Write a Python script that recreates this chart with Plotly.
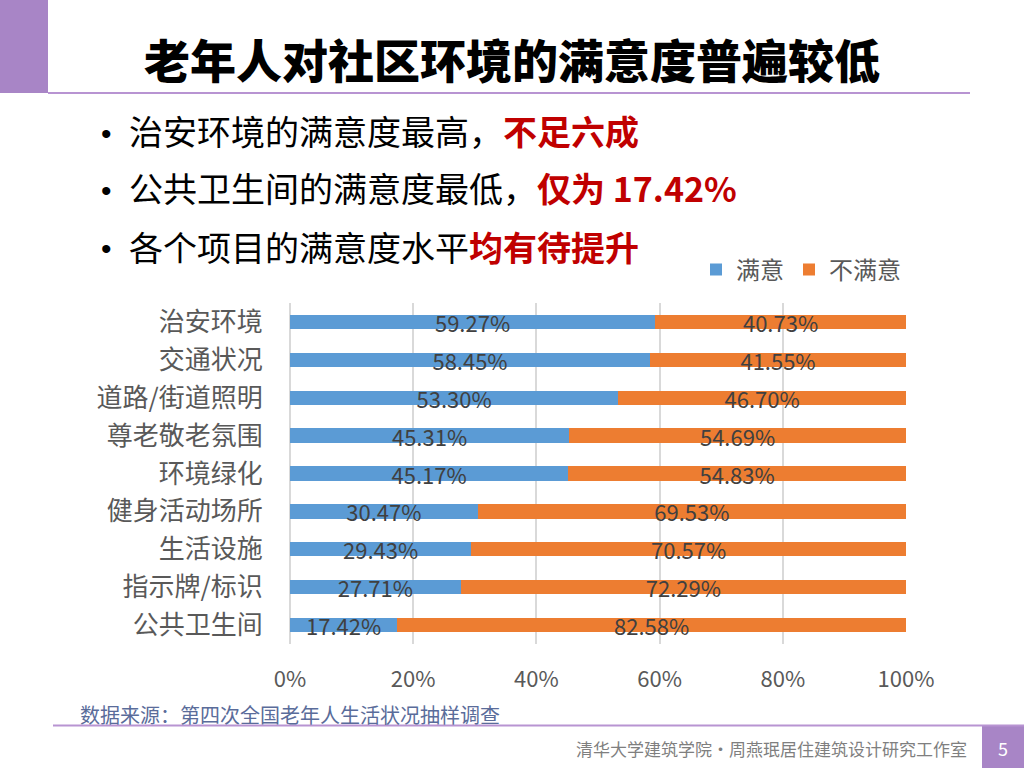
import plotly.graph_objects as go

categories = ["治安环境", "交通状况", "道路/街道照明", "尊老敬老氛围", "环境绿化",
              "健身活动场所", "生活设施", "指示牌/标识", "公共卫生间"]
satisfied = [59.27, 58.45, 53.30, 45.31, 45.17, 30.47, 29.43, 27.71, 17.42]
unsatisfied = [40.73, 41.55, 46.70, 54.69, 54.83, 69.53, 70.57, 72.29, 82.58]
series_names = ["满意", "不满意"]
x_ticks = [0, 20, 40, 60, 80, 100]

W, H = 1024, 768
FONT = "Noto Sans CJK SC"
BLUE = "#5B9BD5"
ORANGE = "#ED7D31"
PURPLE = "#A885C6"
LINEPURPLE = "#B894D2"


def px(x):
    return x / W


def py(y):
    return 1 - y / H


fig = go.Figure()
for name, vals, col in [(series_names[0], satisfied, BLUE), (series_names[1], unsatisfied, ORANGE)]:
    fig.add_trace(go.Bar(
        y=categories, x=vals, name=name, orientation="h",
        marker=dict(color=col, line=dict(width=0)),
        text=[f"{v:.2f}%" for v in vals],
        textposition="inside", insidetextanchor="middle", textangle=0,
        textfont=dict(family=FONT, size=22, color="#404040"),
        hoverinfo="skip",
    ))

fig.update_layout(
    template="none",
    width=W, height=H, autosize=False,
    margin=dict(l=0, r=0, t=0, b=0, pad=0, autoexpand=False),
    paper_bgcolor="white", plot_bgcolor="white",
    barmode="stack", bargap=0.62,
    uniformtext=dict(minsize=22, mode="show"),
    font=dict(family=FONT),
    showlegend=True,
    legend=dict(orientation="h", x=px(696), y=py(270), xanchor="left", yanchor="middle",
                font=dict(family=FONT, size=24, color="#595959"),
                itemwidth=30, traceorder="normal", bgcolor="rgba(0,0,0,0)"),
    xaxis=dict(domain=[px(290), px(906)], range=[0, 100], automargin=False,
               tickvals=x_ticks, ticktext=[f"{t}%" for t in x_ticks],
               tickfont=dict(family=FONT, size=22, color="#595959"),
               showgrid=True, gridcolor="#D9D9D9", gridwidth=2,
               zeroline=True, zerolinecolor="#D9D9D9", zerolinewidth=2,
               showline=False, ticks="outside", ticklen=16, tickcolor="rgba(0,0,0,0)",
               fixedrange=True),
    yaxis=dict(domain=[py(644), py(303)], autorange="reversed", automargin=False,
               categoryorder="array", categoryarray=categories,
               tickfont=dict(family=FONT, size=26, color="#595959"),
               showgrid=False, zeroline=False, showline=False,
               ticks="outside", ticklen=21, tickcolor="rgba(0,0,0,0)",
               fixedrange=True),
)

shapes = [
    dict(type="rect", xref="paper", yref="paper", x0=0, x1=px(48), y0=py(93), y1=1,
         fillcolor=PURPLE, line=dict(width=0), layer="below"),
    dict(type="line", xref="paper", yref="paper", x0=px(48), x1=px(970), y0=py(93), y1=py(93),
         line=dict(color=LINEPURPLE, width=2)),
    dict(type="line", xref="paper", yref="paper", x0=px(53), x1=1, y0=py(725.5), y1=py(725.5),
         line=dict(color=LINEPURPLE, width=2)),
    dict(type="rect", xref="paper", yref="paper", x0=px(982), x1=1, y0=0, y1=py(726),
         fillcolor=PURPLE, line=dict(width=0), layer="below"),
]
fig.update_layout(shapes=shapes)

RED = "#C00000"
BUL = "Liberation Sans"
annotations = [
    dict(text="老年人对社区环境的满意度普遍较低", x=px(512), y=py(58),
         font=dict(family=FONT, size=46, color="black", weight=900)),
    dict(text="•", x=px(106), y=py(133), font=dict(family=BUL, size=30, color="black")),
    dict(text="•", x=px(106), y=py(190), font=dict(family=BUL, size=30, color="black")),
    dict(text="•", x=px(106), y=py(248), font=dict(family=BUL, size=30, color="black")),
    dict(text=f"治安环境的满意度最高，<b><span style='color:{RED}'>不足六成</span></b>",
         x=px(127), y=py(131), xanchor="left", font=dict(family=FONT, size=34, color="black")),
    dict(text=f"公共卫生间的满意度最低，<b><span style='color:{RED}'>仅为 17.42%</span></b>",
         x=px(127), y=py(188), xanchor="left", font=dict(family=FONT, size=34, color="black")),
    dict(text=f"各个项目的满意度水平<b><span style='color:{RED}'>均有待提升</span></b>",
         x=px(127), y=py(246), xanchor="left", font=dict(family=FONT, size=34, color="black")),
    dict(text="数据来源：第四次全国老年人生活状况抽样调查", x=px(78), y=py(714), xanchor="left",
         font=dict(family=FONT, size=20, color="#5A6C9A")),
    dict(text="清华大学建筑学院·周燕珉居住建筑设计研究工作室", x=px(969), y=py(748), xanchor="right",
         font=dict(family=FONT, size=17, color="#7F7F7F")),
    dict(text="5", x=px(1003), y=py(748), font=dict(family=FONT, size=18, color="white")),
]
for a in annotations:
    a.setdefault("xanchor", "center")
    a.update(xref="paper", yref="paper", yanchor="middle", showarrow=False)
fig.update_layout(annotations=annotations)

fig.write_html("out.html", config={"responsive": False, "displayModeBar": False},
               post_script="document.body.style.margin='0';document.body.style.overflow='hidden';")
